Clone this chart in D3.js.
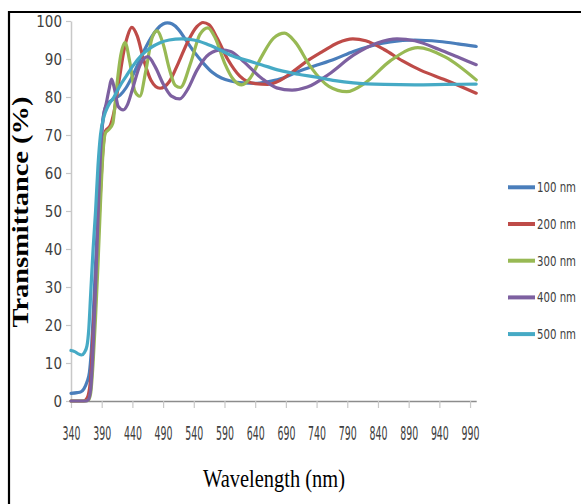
<!DOCTYPE html>
<html>
<head>
<meta charset="utf-8">
<script src="https://cdn.jsdelivr.net/npm/d3@7"></script>
<style>
  body { margin: 0; background: #fff; }
  svg { display: block; }
</style>
</head>
<body>
<svg id="chart" width="581" height="504"></svg>
<script>
// wavelength (nm), transmittance (%) for each film thickness
const s100 = [[340,2],[350,2.2],[356,2.4],[361,3.2],[366,5],[370,7.5],[373,13],[376,22],[380,36],[384,50],[388,66],[392,74],[398,78],[410,79.5],[420,80.5],[430,82.5],[440,85.5],[450,89],[460,92.5],[470,95.5],[480,97.8],[490,99.2],[497,99.5],[505,99.2],[515,97.8],[525,95.5],[540,92],[555,89],[570,86.5],[585,85],[600,84.2],[620,83.7],[640,83.6],[660,84],[680,84.7],[700,86],[720,87.3],[745,88.6],[770,90],[800,92],[830,93.5],[860,94.5],[900,95],[940,94.6],[970,94],[1000,93.3]];
const s200 = [[340,0],[360,0],[364,0.3],[368,1.5],[372,6],[376,18],[380,30],[384,42],[388,55],[392,66],[396,71],[404,72.5],[410,76],[418,84],[426,92],[432,96],[439,98.3],[448,96],[458,90],[470,84.5],[485,82.3],[500,84],[515,89],[530,94.5],[545,98.5],[555,99.6],[565,99],[578,95.5],[595,90],[615,85.5],[640,83.5],[660,83.3],[680,84.3],[700,86.5],[725,89.5],[750,92],[775,94.3],[799,95.3],[820,94.8],[850,92.5],[880,89.5],[910,87],[950,84.5],[1000,81]];
const s300 = [[340,0],[364,0],[368,0.2],[372,2],[376,10],[380,22],[384,36],[388,52],[392,65],[396,70.5],[402,71.5],[408,73],[414,82],[420,90],[428,94.3],[436,89],[444,81.5],[452,80.2],[462,87],[472,95.5],[480,97.4],[490,94],[500,87.5],[510,83],[518,82.5],[535,89],[550,96.5],[563,98.2],[575,95.5],[590,89],[605,84.5],[618,83.2],[632,85],[650,90.5],[670,95.5],[688,96.8],[705,94.5],[730,88],[760,82.8],[789,81.4],[820,83.8],[860,89.5],[905,93],[950,90.5],[1000,84.5]];
const s400 = [[340,0],[364,0],[368,0.3],[372,3],[376,14],[380,30],[384,48],[388,65],[392,74],[397,78],[402,82],[406,84.7],[411,82],[417,77.5],[425,76.6],[432,78],[440,82],[452,88.2],[465,90.6],[477,88],[490,83.5],[503,80.3],[517,79.5],[530,82],[545,87],[565,91.3],[585,92.4],[600,92],[620,89.5],[650,85],[675,82.4],[700,81.8],[725,82.6],[760,86],[800,91],[840,94.3],[871,95.3],[900,94.8],[940,92.5],[970,90.5],[1000,88.5]];
const s500 = [[340,13.3],[346,13],[352,12.4],[357,12.1],[362,12.8],[366,14.5],[369,19],[372,28],[376,40],[380,50],[384,62],[388,70],[394,75],[400,77.5],[410,80],[420,83],[430,85.5],[440,88],[455,91],[470,93],[485,94.3],[500,95],[520,95.3],[540,95],[560,94],[580,92.6],[600,91],[625,89.7],[650,88.5],[680,87],[710,86],[740,85.2],[770,84.3],[800,83.7],[850,83.3],[900,83.2],[950,83.3],[1000,83.4]];

const seriesNames = ["100 nm", "200 nm", "300 nm", "400 nm", "500 nm"];
const seriesData = [s100, s200, s300, s400, s500];
const colors = ["#4A7EBB", "#BE4B48", "#98B954", "#7D60A0", "#46AAC5"];
const xTicks = d3.range(340, 991, 50);
const yTicks = d3.range(0, 101, 10);

const narrow = "'Liberation Sans Narrow', 'DejaVu Sans Condensed', sans-serif";
const serif = "'Liberation Serif', 'DejaVu Serif', serif";

// squeeze a text horizontally to a target width, keeping its anchor point
function squeeze(sel, width, tx, ty, rot) {
    sel.each(function() {
        const w = this.getComputedTextLength();
        const k = w > 0 ? width / w : 1;
        d3.select(this).attr("transform",
            `translate(${tx},${ty})` + (rot ? ` rotate(${rot})` : "") + ` scale(${k},1)`);
    });
}

const svg = d3.select("#chart");

svg.append("rect").attr("width", 581).attr("height", 504).attr("fill", "#fff");

// chart frame (only top and left edges visible)
svg.append("path")
    .attr("d", "M9,504V12H581")
    .attr("fill", "none")
    .attr("stroke", "#000")
    .attr("stroke-width", 2.2);

const x = d3.scaleLinear().domain([340, 1000]).range([71, 476.2]);
const y = d3.scaleLinear().domain([0, 100]).range([401, 21]);

// Y axis
const yAxis = svg.append("g")
    .attr("transform", "translate(71,0)")
    .call(d3.axisLeft(y).tickValues(yTicks).tickSize(5).tickSizeOuter(0).tickPadding(4));
yAxis.select(".domain").attr("stroke", "#C8C8C8").attr("stroke-width", 1.5);
yAxis.selectAll(".tick line").attr("stroke", "#C8C8C8").attr("stroke-width", 1.2);
yAxis.selectAll(".tick text")
    .attr("fill", "#404040")
    .style("font-family", narrow)
    .style("font-size", "15px")
    .attr("dy", "0.36em")
    .attr("x", -9);

// X axis
const xAxis = svg.append("g")
    .attr("transform", "translate(0,401)")
    .call(d3.axisBottom(x).tickValues(xTicks).tickSize(7).tickSizeOuter(0).tickFormat(d3.format("d")));
xAxis.select(".domain").attr("stroke", "#8C8C8C").attr("stroke-width", 1.3);
xAxis.selectAll(".tick line").attr("stroke", "#C8C8C8").attr("stroke-width", 1.2);
xAxis.selectAll(".tick text")
    .attr("fill", "#404040")
    .attr("x", 0)
    .attr("y", 0)
    .attr("dy", 0)
    .style("font-family", narrow)
    .style("font-size", "20px")
    .call(squeeze, 18, 0, 39);

// lines
const line = d3.line()
    .x(d => x(d[0]))
    .y(d => y(d[1]))
    .curve(d3.curveMonotoneX);

svg.selectAll(".series")
    .data(seriesData)
    .enter()
    .append("path")
    .attr("class", "series")
    .attr("d", line)
    .attr("fill", "none")
    .attr("stroke", (d, i) => colors[i])
    .attr("stroke-width", 3.2)
    .attr("stroke-linejoin", "round")
    .attr("stroke-linecap", "round");

// legend
const legend = svg.append("g");
seriesNames.forEach((name, i) => {
    const ly = 187.3 + i * 36.7;
    legend.append("line")
        .attr("x1", 508).attr("x2", 535)
        .attr("y1", ly).attr("y2", ly)
        .attr("stroke", colors[i])
        .attr("stroke-width", 4);
    legend.append("text")
        .attr("fill", "#404040")
        .style("font-family", narrow)
        .style("font-size", "14px")
        .text(name)
        .call(squeeze, 39, 537, ly + 5);
});

// axis titles
svg.append("text")
    .attr("text-anchor", "middle")
    .style("font-family", serif)
    .style("font-size", "26px")
    .attr("fill", "#000")
    .text("Wavelength (nm)")
    .call(squeeze, 142, 274, 487);

svg.append("text")
    .attr("text-anchor", "middle")
    .style("font-family", serif)
    .style("font-size", "23px")
    .style("font-weight", "bold")
    .attr("fill", "#000")
    .text("Transmittance (%)")
    .call(squeeze, 231, 28, 212, -90);
</script>
</body>
</html>
